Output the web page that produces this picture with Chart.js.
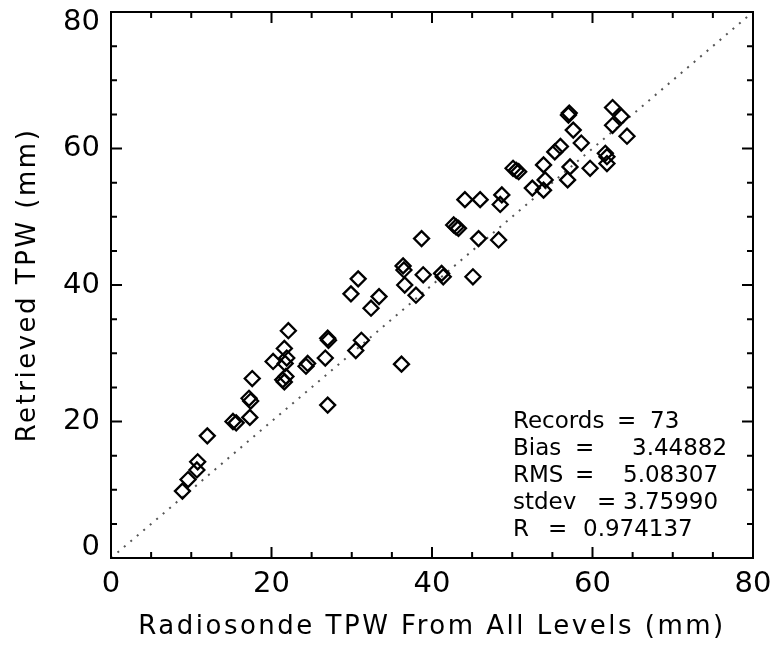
<!DOCTYPE html>
<html><head><meta charset="utf-8">
<script src="https://cdn.jsdelivr.net/npm/chart.js@4"></script>
<style>html,body{margin:0;padding:0;background:#fff}</style>
</head><body>
<canvas id="c" width="780" height="654"></canvas>
<script>
// Radiosonde TPW (x) and retrieved TPW (y), mm
const radiosondeTPW = [8.9, 9.6, 10.7, 10.8, 12.0, 15.2, 15.6, 17.3, 17.2, 17.4, 17.6, 20.2, 21.4, 21.8, 21.6, 21.7, 21.9, 21.6, 22.1, 24.3, 24.5, 26.7, 27.1, 27.0, 27.0, 29.9, 30.8, 30.5, 31.2, 32.4, 33.4, 36.2, 36.4, 36.5, 36.6, 38.0, 38.7, 38.9, 41.2, 41.4, 45.1, 43.0, 42.7, 43.3, 45.8, 48.3, 44.1, 46.0, 48.7, 48.5, 50.1, 50.5, 50.8, 52.5, 53.9, 54.1, 53.9, 55.3, 56.0, 57.0, 57.1, 57.6, 58.6, 57.2, 56.9, 59.7, 61.6, 61.8, 61.8, 62.5, 62.5, 63.6, 64.3];
const retrievedTPW = [9.8, 11.5, 12.9, 14.1, 17.9, 20.0, 19.8, 20.6, 23.4, 23.0, 26.3, 28.8, 26.1, 26.6, 25.8, 28.5, 29.3, 30.7, 33.3, 28.1, 28.5, 29.3, 31.9, 32.2, 22.4, 38.7, 40.9, 30.4, 31.9, 36.6, 38.3, 28.4, 42.8, 42.2, 40.0, 38.5, 46.8, 41.5, 41.7, 41.2, 41.2, 48.5, 48.8, 48.3, 46.8, 46.6, 52.5, 52.5, 53.2, 51.8, 57.1, 56.8, 56.6, 54.2, 57.6, 55.4, 53.9, 59.5, 60.3, 64.9, 65.2, 62.7, 60.8, 57.3, 55.4, 57.1, 59.3, 58.8, 57.8, 66.0, 63.4, 64.7, 61.8];
const oneToOneX = [0, 80];
const oneToOneY = [0, 80];
const axisTicks = [0, 20, 40, 60, 80];
const statNames = ['Records', 'Bias', 'RMS', 'stdev', 'R'];
const statValues = ['73', '3.44882', '5.08307', '3.75990', '0.974137'];
const xTitle = 'Radiosonde TPW From All Levels (mm)';
const yTitle = 'Retrieved TPW (mm)';

const points = radiosondeTPW.map((x, i) => ({x: x, y: retrievedTPW[i]}));
const diag = oneToOneX.map((x, i) => ({x: x, y: oneToOneY[i]}));
const FONT = 'DejaVu Sans';

const framePlugin = {
  id: 'frame',
  afterDraw(chart) {
    const ctx = chart.ctx;
    const a = chart.chartArea;
    const xs = chart.scales.x, ys = chart.scales.y;
    ctx.save();
    ctx.strokeStyle = '#000';
    ctx.lineWidth = 2;
    ctx.strokeRect(a.left, a.top, a.right - a.left, a.bottom - a.top);
    ctx.beginPath();
    for (let v = 0; v <= 80; v += 5) {
      const len = v % 20 === 0 ? 11 : 6;
      const px = xs.getPixelForValue(v);
      ctx.moveTo(px, a.bottom); ctx.lineTo(px, a.bottom - len);
      ctx.moveTo(px, a.top); ctx.lineTo(px, a.top + len);
      const py = ys.getPixelForValue(v);
      ctx.moveTo(a.left, py); ctx.lineTo(a.left + len, py);
      ctx.moveTo(a.right, py); ctx.lineTo(a.right - len, py);
    }
    ctx.stroke();

    // axis titles
    ctx.fillStyle = '#000';
    ctx.font = '26px "' + FONT + '"';
    ctx.letterSpacing = '2.5px';
    ctx.textAlign = 'center';
    ctx.textBaseline = 'middle';
    ctx.fillText(xTitle, (a.left + a.right) / 2, 627);
    ctx.save();
    ctx.translate(28, (a.top + a.bottom) / 2);
    ctx.rotate(-Math.PI / 2);
    ctx.fillText(yTitle, 0, 0);
    ctx.restore();
    ctx.letterSpacing = '0px';

    // statistics box
    ctx.font = '23px "' + FONT + '"';
    ctx.textAlign = 'left';
    const eqX = [617, 575, 575, 597, 548];
    const valX = [650, 632, 623, 623, 583];
    for (let i = 0; i < statNames.length; i++) {
      const y = 422 + i * 27;
      ctx.fillText(statNames[i], 513, y);
      ctx.fillText('=', eqX[i], y);
      ctx.fillText(statValues[i], valX[i], y);
    }
    ctx.restore();
  }
};

new Chart(document.getElementById('c'), {
  type: 'scatter',
  data: {
    datasets: [
      {
        type: 'line',
        data: diag,
        borderColor: '#555',
        borderWidth: 2,
        borderDash: [2, 6.5],
        pointRadius: 0,
        fill: false,
        tension: 0,
        order: 2
      },
      {
        data: points,
        pointStyle: 'rectRot',
        pointRadius: 7.5,
        pointHoverRadius: 7.5,
        borderColor: '#000',
        borderWidth: 2.3,
        backgroundColor: 'rgba(0,0,0,0)',
        order: 1
      }
    ]
  },
  options: {
    responsive: false,
    animation: false,
    events: [],
    layout: {padding: {top: 12, right: 27, left: 0, bottom: 0}},
    plugins: {legend: {display: false}, tooltip: {enabled: false}},
    scales: {
      x: {
        type: 'linear', min: 0, max: 80,
        afterBuildTicks: s => { s.ticks = axisTicks.map(v => ({value: v})); },
        grid: {display: false, drawTicks: false},
        border: {display: false},
        ticks: {font: {family: FONT, size: 29}, color: '#000', padding: 9, maxRotation: 0},
        afterFit: s => { s.height = 96; s.paddingLeft = 0; s.paddingRight = 0; }
      },
      y: {
        type: 'linear', min: 0, max: 80,
        afterBuildTicks: s => { s.ticks = axisTicks.map(v => ({value: v})); },
        grid: {display: false, drawTicks: false},
        border: {display: false},
        ticks: {
          font: {family: FONT, size: 29, lineHeight: 0.72},
          color: '#000', padding: 11,
          // keep the end labels inside the frame, as in the original plot
          callback: v => v === axisTicks[axisTicks.length - 1] ? ['', String(v)] : (v === axisTicks[0] ? [String(v), ''] : String(v))
        },
        afterFit: s => { s.width = 111; s.paddingTop = 0; s.paddingBottom = 0; }
      }
    }
  },
  plugins: [framePlugin]
});
</script>
</body></html>
